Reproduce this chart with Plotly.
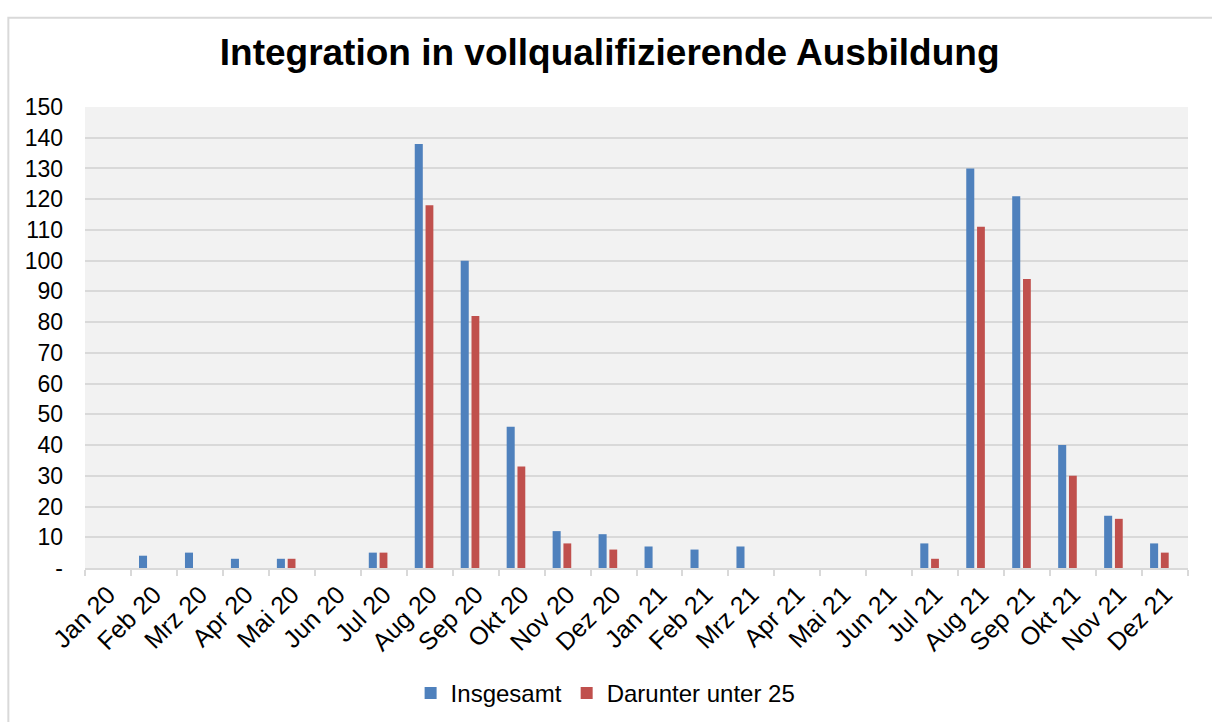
import plotly.graph_objects as go

categories = ["Jan 20", "Feb 20", "Mrz 20", "Apr 20", "Mai 20", "Jun 20", "Jul 20", "Aug 20",
              "Sep 20", "Okt 20", "Nov 20", "Dez 20", "Jan 21", "Feb 21", "Mrz 21", "Apr 21",
              "Mai 21", "Jun 21", "Jul 21", "Aug 21", "Sep 21", "Okt 21", "Nov 21", "Dez 21"]
insgesamt = [0, 4, 5, 3, 3, 0, 5, 138, 100, 46, 12, 11, 7, 6, 7, 0, 0, 0, 8, 130, 121, 40, 17, 8]
unter25 = [0, 0, 0, 0, 3, 0, 5, 118, 82, 33, 8, 6, 0, 0, 0, 0, 0, 0, 3, 111, 94, 30, 16, 5]
y_tickvals = list(range(0, 151, 10))
y_ticktext = ["-"] + [str(v) for v in y_tickvals[1:]]

font = "Liberation Sans, Arial, sans-serif"

fig = go.Figure()
fig.add_trace(go.Bar(x=categories, y=insgesamt, name="Insgesamt",
                     offset=-0.325, width=0.175,
                     marker=dict(color="#4F81BD", line=dict(width=0))))
fig.add_trace(go.Bar(x=categories, y=unter25, name="Darunter unter 25",
                     offset=-0.09, width=0.17,
                     marker=dict(color="#C0504D", line=dict(width=0))))

fig.update_layout(
    width=1212, height=722,
    paper_bgcolor="white", plot_bgcolor="#F2F2F2",
    margin=dict(l=85, r=24, t=107, b=154, autoexpand=False),
    barmode="group",
    font=dict(family=font, color="black", size=23),
    title=dict(text="<b>Integration in vollqualifizierende Ausbildung</b>",
               font=dict(family=font, size=37, color="black"),
               x=0.503, xanchor="center", y=0.928, yanchor="middle"),
    legend=dict(orientation="h", x=0.472, xanchor="center", y=-0.272, yanchor="middle",
                font=dict(size=24), itemwidth=30, traceorder="normal"),
    showlegend=True,
)
fig.update_xaxes(type="category", tickangle=-45, tickson="boundaries", ticks="outside",
                 ticklen=6, tickcolor="#D9D9D9", tickwidth=2, showline=True, linecolor="#D9D9D9",
                 linewidth=2, showgrid=False, tickfont=dict(size=25))
fig.update_yaxes(range=[0, 150], tickvals=y_tickvals, ticktext=y_ticktext,
                 showgrid=True, gridcolor="#D9D9D9", gridwidth=2, zeroline=False,
                 showline=False, ticks="", ticklabelstandoff=21, tickfont=dict(size=23))

fig.add_shape(type="rect", xref="paper", yref="paper",
              x0=-0.0695, x1=1.05, y0=-0.4, y1=1.1935,
              line=dict(color="#D9D9D9", width=2), fillcolor="rgba(0,0,0,0)", layer="below")

fig.write_html("out.html", config={"displayModeBar": False},
               post_script="document.body.style.margin='0';document.body.style.overflow='hidden';")
